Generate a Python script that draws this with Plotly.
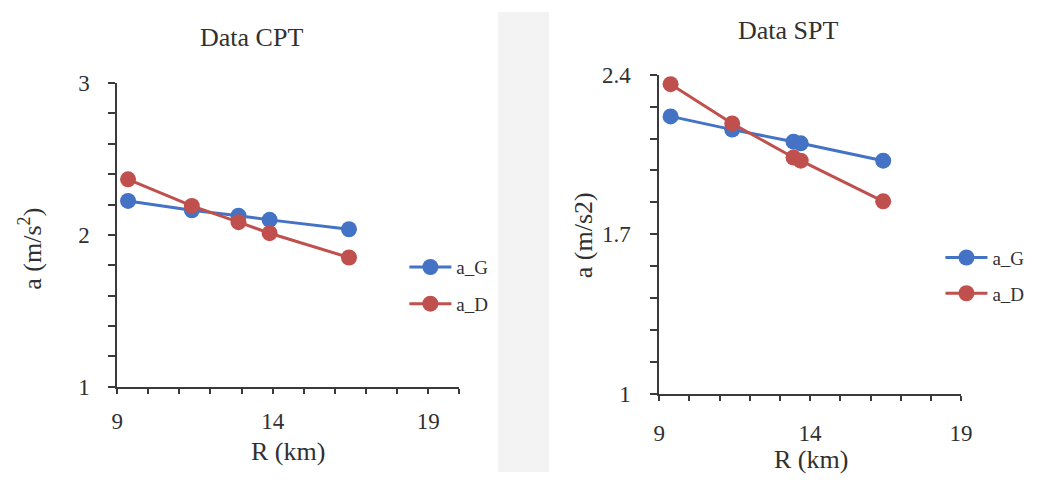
import plotly.graph_objects as go

# ---- data ----
cpt_R_G = [9.35, 11.4, 12.9, 13.9, 16.45]
cpt_aG = [2.224, 2.162, 2.126, 2.099, 2.037]
cpt_R_D = [9.35, 11.4, 12.9, 13.9, 16.45]
cpt_aD = [2.366, 2.191, 2.084, 2.011, 1.851]

spt_R_G = [9.38, 11.42, 13.45, 13.69, 16.42]
spt_aG = [2.217, 2.159, 2.106, 2.099, 2.023]
spt_R_D = [9.38, 11.42, 13.45, 13.69, 16.42]
spt_aD = [2.358, 2.186, 2.037, 2.023, 1.845]

series_names = ["a_G", "a_D"]
titles = ["Data CPT", "Data SPT"]
x_title = "R (km)"
y_titles = ["a (m/s<sup>2</sup>)", "a (m/s2)"]

BLUE = "#4472C4"
RED = "#C0504D"
FONT = "Liberation Serif, Times New Roman, serif"
AX = "#3a3a3a"
TXT = "#303030"
W, H = 1038, 485

fig = go.Figure()

def add(x, y, name, color, xa, ya, leg):
    fig.add_trace(go.Scatter(
        x=x, y=y, name=name, mode="lines+markers",
        line=dict(color=color, width=3),
        marker=dict(color=color, size=16),
        xaxis=xa, yaxis=ya, legend=leg, legendgroup=leg + name,
    ))

add(cpt_R_G, cpt_aG, series_names[0], BLUE, "x", "y", "legend")
add(cpt_R_D, cpt_aD, series_names[1], RED, "x", "y", "legend")
add(spt_R_G, spt_aG, series_names[0], BLUE, "x2", "y2", "legend2")
add(spt_R_D, spt_aD, series_names[1], RED, "x2", "y2", "legend2")

def px_x(p):
    return p / W

def px_y(p):
    return 1 - p / H

common = dict(
    showgrid=False, zeroline=False, showline=True, linecolor=AX, linewidth=1.8,
    ticks="outside", tickwidth=1.5, tickcolor=AX,
    tickfont=dict(family=FONT, size=23, color=TXT),
)

def minor(t0, dt, ln):
    return dict(tick0=t0, dtick=dt, ticks="outside", ticklen=ln, tickcolor=AX, tickwidth=1.5)

fig.update_layout(
    width=W, height=H, margin=dict(l=0, r=0, t=0, b=0),
    plot_bgcolor="rgba(0,0,0,0)", paper_bgcolor="white",
    font=dict(family=FONT, color=TXT),
    xaxis=dict(domain=[px_x(113), px_x(461)], range=[9, 20], tick0=9, dtick=5,
               anchor="y", ticklen=5, ticklabelstandoff=8, minor=minor(9, 1, 5), **common),
    yaxis=dict(domain=[px_y(395), px_y(75)], range=[1, 3], tick0=1, dtick=1,
               anchor="x", ticklen=7, ticklabelstandoff=14, minor=minor(1, 0.2, 7), **common),
    xaxis2=dict(domain=[px_x(664), px_x(971)], range=[9, 19], tick0=9, dtick=5,
                anchor="y2", ticklen=5, ticklabelstandoff=12, minor=minor(9, 1, 5), **common),
    yaxis2=dict(domain=[px_y(403), px_y(66)], range=[1, 2.4], tick0=1, dtick=0.7,
                anchor="x2", ticklen=7, ticklabelstandoff=15, minor=minor(1, 0.14, 7), **common),
    legend=dict(x=px_x(405), y=px_y(249), xanchor="left", yanchor="top",
                font=dict(family=FONT, size=19, color=TXT), bgcolor="rgba(0,0,0,0)",
                traceorder="grouped", tracegroupgap=9, itemwidth=42),
    legend2=dict(x=px_x(950), y=px_y(239), xanchor="left", yanchor="top",
                 font=dict(family=FONT, size=19, color=TXT), bgcolor="rgba(0,0,0,0)",
                 traceorder="grouped", tracegroupgap=8, itemwidth=42),
    shapes=[dict(type="rect", xref="paper", yref="paper", x0=px_x(500), x1=px_x(552),
                 y0=0, y1=1, fillcolor="#f3f3f3", line=dict(width=0), layer="below")],
)

ann_font = dict(family=FONT, size=26, color=TXT)
annots = [
    (titles[0], 250, 27, 0),
    (titles[1], 796, 20, 0),
    (x_title, 287, 463, 0),
    (x_title, 818, 472, 0),
    (y_titles[0], 25, 250, -90),
    (y_titles[1], 588, 235, -90),
]
for text, ax_, ay_, ang in annots:
    fig.add_annotation(text=text, x=px_x(ax_), y=px_y(ay_), xref="paper", yref="paper",
                       showarrow=False, font=ann_font, textangle=ang,
                       xanchor="center", yanchor="middle")

fig.write_html("out.html")
